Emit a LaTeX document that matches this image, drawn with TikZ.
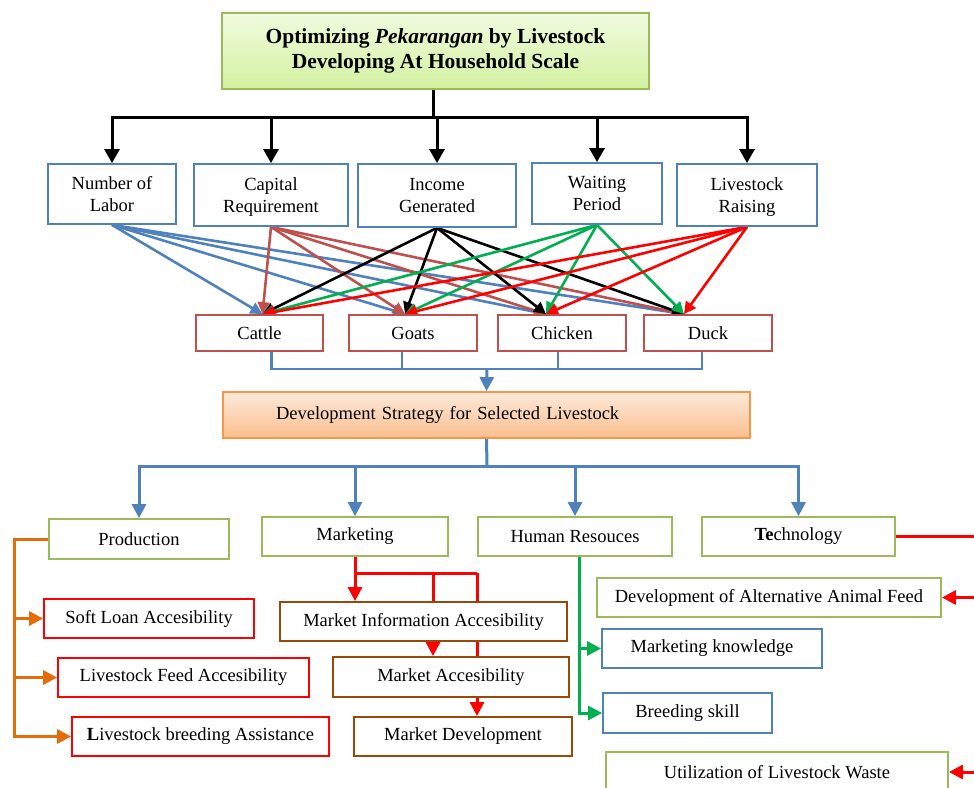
\documentclass[tikz,border=0pt]{standalone}
\usepackage{fontspec}
\setmainfont{Liberation Serif}
\usetikzlibrary{arrows.meta,backgrounds,calc}
\definecolor{accBlue}{HTML}{4F81BD}
\definecolor{accRed}{HTML}{C0504D}
\definecolor{accOrange}{HTML}{F79646}
\definecolor{darkOrange}{HTML}{E46C0A}
\definecolor{oliveGreen}{HTML}{9BBB59}
\definecolor{brightGreen}{HTML}{00B050}
\definecolor{brownish}{HTML}{984807}
\definecolor{titleTop}{HTML}{F1FBDF}
\definecolor{titleBottom}{HTML}{D3F1A0}
\definecolor{devTop}{HTML}{FDE9D9}
\definecolor{devBottom}{HTML}{FABF8F}
\tikzstyle{box} = [draw, fill=white, line width=1.8pt, align=center, inner sep=2pt, font=\fontsize{18.5}{22}\selectfont]
\tikzstyle{titlebox} = [box, draw=oliveGreen, top color=titleTop, bottom color=titleBottom, font=\fontsize{21.5}{25}\selectfont\bfseries]
\tikzstyle{critbox} = [box, draw=accBlue, text depth=-2pt]
\tikzstyle{animalbox} = [box, draw=accRed]
\tikzstyle{devbox} = [box, draw=accOrange, top color=devTop, bottom color=devBottom]
\tikzstyle{greenbox} = [box, draw=oliveGreen]
\tikzstyle{redbox} = [box, draw=red]
\tikzstyle{brownbox} = [box, draw=brownish]
\tikzstyle{bluebox} = [box, draw=accBlue]
\tikzstyle{link} = [line width=3pt]
\tikzstyle{mainarrow} = [line width=3pt, -{Triangle[length=14pt,width=15pt]}]
\tikzstyle{crossarrow} = [line width=2.6pt, -{Triangle[length=12pt,width=12pt]}]
\tikzstyle{linkarrow} = [line width=3pt, -{Triangle[length=14pt,width=14pt]}]

\begin{document}
\begin{tikzpicture}[x=1pt,y=-1pt]
\useasboundingbox (0,0) rectangle (974,787);
\clip (0,0) rectangle (974,787);
% title and criteria
\draw (435.5,51) node (title) [titlebox, minimum width=427, minimum height=76] {Optimizing \textit{Pekarangan} by Livestock\\Developing At Household Scale};
\draw (112,194) node (labor) [critbox, minimum width=128, minimum height=60] {Number of\\Labor};
\draw (271,195) node (capital) [critbox, minimum width=154, minimum height=62] {Capital\\Requirement};
\draw (437,195.5) node (income) [critbox, minimum width=158, minimum height=63] {Income\\Generated};
\draw (597,193.5) node (waiting) [critbox, minimum width=130, minimum height=61] {Waiting\\Period};
\draw (747,195) node (raising) [critbox, minimum width=140, minimum height=62] {Livestock\\Raising};
% livestock
\draw (259.5,333) node (cattle) [animalbox, minimum width=127, minimum height=36] {Cattle};
\draw (413,333) node (goats) [animalbox, minimum width=128, minimum height=36] {Goats};
\draw (562,333) node (chicken) [animalbox, minimum width=128, minimum height=36] {Chicken};
\draw (708,333) node (duck) [animalbox, minimum width=128, minimum height=36] {Duck};
% strategy
\draw (486.5,415) node (dev) [devbox, text width=421, inner xsep=53, align=left, minimum height=46] {Development Strategy for Selected Livestock};
\draw (139,539) node (production) [greenbox, minimum width=180, minimum height=40] {Production};
\draw (355,536.5) node (marketing) [greenbox, minimum width=186, minimum height=39] {Marketing};
\draw (575,536.5) node (human) [greenbox, minimum width=194, minimum height=39] {Human Resouces};
\draw (798.5,536.5) node (technology) [greenbox, minimum width=193, minimum height=39] {\textbf{Te}chnology};
% production items
\draw (149,618.5) node (softloan) [redbox, minimum width=210, minimum height=39] {Soft Loan Accesibility};
\draw (183.5,677.5) node (feed) [redbox, minimum width=251, minimum height=39] {Livestock Feed Accesibility};
\draw (200.5,736.5) node (breeding) [redbox, minimum width=257, minimum height=39] {\textbf{L}ivestock breeding Assistance};
% marketing items
\draw (423.5,621.5) node (mktinfo) [brownbox, minimum width=287, minimum height=39] {Market Information Accesibility};
\draw (451,677) node (mktaccess) [brownbox, minimum width=236, minimum height=40] {Market Accesibility};
\draw (463,736.5) node (mktdev) [brownbox, minimum width=218, minimum height=39] {Market Development};
% human resources and technology items
\draw (712,648.5) node (knowledge) [bluebox, minimum width=220, minimum height=39] {Marketing knowledge};
\draw (687.5,713) node (skill) [bluebox, minimum width=169, minimum height=40] {Breeding skill};
\draw (769,597.5) node (altfeed) [greenbox, minimum width=344, minimum height=39] {Development of Alternative Animal Feed};
\draw (777,772) node (waste) [greenbox, minimum width=342, minimum height=40] {Utilization of Livestock Waste};

\begin{scope}[on background layer]
\coordinate (hub) at (433,117);
\draw[link] (title.south -| hub) -- (hub);
\foreach \n in {labor,capital,income,waiting,raising}
  \draw[mainarrow] (hub) -| (\n.north);
% criteria to livestock
\coordinate (tCattle) at ([xshift=3]cattle.north);
\coordinate (tGoats) at ([xshift=-8]goats.north);
\coordinate (tChicken) at ([xshift=-16]chicken.north);
\coordinate (tDuck) at ([xshift=-24]duck.north);
\foreach \src/\col in {labor/accBlue, capital/accRed, income/black, waiting/brightGreen, raising/red}
  \foreach \dst in {tCattle,tGoats,tChicken,tDuck}
    \draw[crossarrow, \col] (\src.south) -- (\dst);
% livestock to strategy
\coordinate (join) at (487,369);
\foreach \n/\s in {cattle/12,goats/-11,chicken/-4,duck/-6}
  \draw[line width=2.4pt, accBlue] ([xshift=\s]\n.south) |- (join);
\draw[linkarrow, accBlue] (join) -- (dev.north);
\coordinate (split) at (487,466);
\draw[link, accBlue] (dev.south) -- (split);
\foreach \n in {production,marketing,human,technology}
  \draw[linkarrow, accBlue] (split) -| (\n.north);
% production
\coordinate (prodrail) at (14,0);
\draw[linkarrow, darkOrange] (production.west) -| (prodrail |- breeding.west) -- (breeding.west);
\foreach \n in {softloan,feed}
  \draw[linkarrow, darkOrange] (prodrail |- \n.west) -- (\n.west);
% marketing
\coordinate (barA) at (433,573);
\coordinate (barB) at (477,573);
\draw[linkarrow, red] (marketing.south) -- (marketing.south |- mktinfo.north);
\draw[link, red] (marketing.south |- barA) -- (barB);
\draw[linkarrow, red] (barA) -- (barA |- mktaccess.north);
\draw[linkarrow, red] (barB) -- (barB |- mktdev.north);
% human resources
\coordinate (hrrail) at (579,0);
\draw[linkarrow, brightGreen] (hrrail |- human.south) |- (skill.west);
\draw[linkarrow, brightGreen] (hrrail |- knowledge.west) -- (knowledge.west);
% technology
\coordinate (techrail) at (995,0);
\draw[link, red] (technology.east) -| (techrail |- waste.east);
\draw[linkarrow, red] (techrail |- altfeed.east) -- (altfeed.east);
\draw[linkarrow, red] (techrail |- waste.east) -- (waste.east);
\end{scope}
\end{tikzpicture}
\end{document}
